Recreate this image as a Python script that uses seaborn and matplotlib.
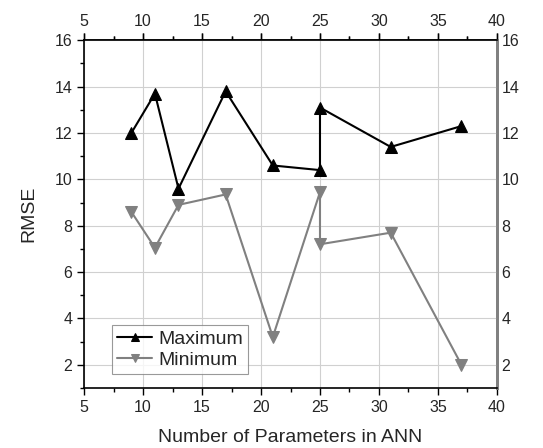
import matplotlib
matplotlib.use("Agg")
import matplotlib.pyplot as plt
import seaborn as sns
import pandas as pd
from matplotlib.ticker import MultipleLocator

# Data
params = [9, 11, 13, 17, 21, 25, 25, 31, 37]
rmse_max = [12.0, 13.7, 9.6, 13.8, 10.6, 10.4, 13.1, 11.4, 12.3]
rmse_min = [8.6, 7.05, 8.9, 9.35, 3.2, 9.45, 7.2, 7.7, 2.0]
x_ticks = [5, 10, 15, 20, 25, 30, 35, 40]
y_ticks = [2, 4, 6, 8, 10, 12, 14, 16]

df = pd.DataFrame({"params": params, "Maximum": rmse_max, "Minimum": rmse_min})

sns.set_style("white")
plt.rcParams["font.family"] = ["Liberation Sans", "DejaVu Sans"]

fig, ax = plt.subplots(figsize=(5.43, 4.48), dpi=100)
fig.subplots_adjust(left=0.155, right=0.915, top=0.91, bottom=0.134)

sns.lineplot(data=df, x="params", y="Maximum", sort=False, estimator=None,
             color="black", marker="^", markersize=8, linewidth=1.5,
             markeredgecolor="black", label="Maximum", ax=ax)
sns.lineplot(data=df, x="params", y="Minimum", sort=False, estimator=None,
             color="#808080", marker="v", markersize=8, linewidth=1.5,
             markeredgecolor="#808080", label="Minimum", ax=ax)

ax.set_xlim(5, 40)
ax.set_ylim(1, 16)
ax.set_xticks(x_ticks)
ax.set_yticks(y_ticks)
ax.xaxis.set_minor_locator(MultipleLocator(2.5))
ax.yaxis.set_minor_locator(MultipleLocator(1))
ax.grid(True, which="major", color="#d0d0d0", linewidth=0.8)
ax.set_axisbelow(True)

ax.tick_params(which="major", direction="out", length=5, width=1, labelsize=11.5, color="black")
ax.tick_params(which="minor", direction="out", length=3, width=1, color="black")
ax.tick_params(top=True, bottom=True, left=True, right=False, which="both")

for side in ["left", "bottom", "top"]:
    ax.spines[side].set_color("black")
    ax.spines[side].set_linewidth(1.2)
ax.spines["right"].set_color("#808080")
ax.spines["right"].set_linewidth(2)

top = ax.secondary_xaxis("top")
top.set_xticks(x_ticks)
top.xaxis.set_minor_locator(MultipleLocator(2.5))
top.tick_params(which="major", direction="out", length=5, width=1, labelsize=11.5)
top.tick_params(which="minor", direction="out", length=3, width=1)
top.spines["top"].set_linewidth(1.2)

right = ax.secondary_yaxis("right")
right.set_yticks(y_ticks)
right.tick_params(which="major", direction="out", length=0, labelsize=11.5)
right.spines["right"].set_color("#808080")
right.spines["right"].set_linewidth(2)

ax.set_xlabel("Number of Parameters in ANN", fontsize=14, labelpad=10)
ax.set_ylabel("RMSE", fontsize=14, labelpad=12)

leg = ax.legend(loc="lower left", bbox_to_anchor=(0.068, 0.04), fontsize=14,
                frameon=True, fancybox=False, edgecolor="#808080",
                handlelength=1.8, handletextpad=0.3, borderpad=0.25,
                labelspacing=0.2, borderaxespad=0, markerscale=0.8)
leg.get_frame().set_linewidth(0.8)

plt.savefig("out.png", dpi=100)
